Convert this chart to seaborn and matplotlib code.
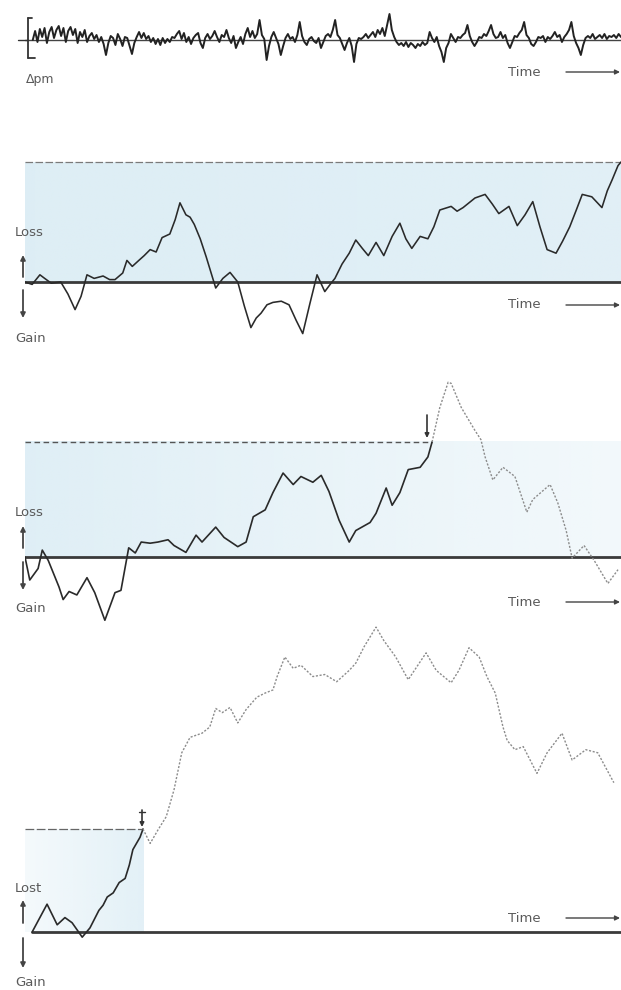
import matplotlib
matplotlib.use("Agg")
import matplotlib.pyplot as plt
from matplotlib.lines import Line2D
from matplotlib.patches import FancyArrowPatch
from matplotlib.colors import to_rgb
import numpy as np
import pandas as pd
import seaborn as sns

sns.set_style("white")
plt.rcParams["font.family"] = ["DejaVu Sans"]

# ---------------------------------------------------------------- data
# Top trace: fluctuation record (deviation from rest, arbitrary units)
noise = [
    0, 9, -2, 11, 3, 12, -3, 8, 13, 2,
    10, 14, 4, 12, -2, 9, 13, 5, 11, -3,
    8, 3, 10, -2, 4, 7, 1, 5, -2, 3,
    -4, -15, -3, 4, 2, -5, 6, 1, -6, 3,
    2, -6, -14, -3, 3, 8, 2, 7, 1, 4,
    -2, 2, -4, 1, -5, 2, -3, 1, -2, 3,
    2, 6, 9, 1, 7, -2, 3, -4, 2, 5,
    7, -3, -8, 2, 6, 1, 4, 9, 3, -2,
    5, 3, 10, 2, -3, 4, -8, -2, 3, -4,
    6, 12, 3, 9, 2, 6, 20, 5, 1, -20,
    -6, 3, 8, 2, -4, -15, -6, 2, 6, 1,
    3, -2, 5, 18, 4, -2, -5, 1, 3, -1,
    -3, 2, -8, -2, 4, 6, 3, 10, 20, 5,
    2, -4, -10, -3, 2, -6, -22, -4, 2, 1,
    3, 6, 2, 5, 8, 3, 10, 6, 12, 4,
    15, 26, 10, 3, -2, -5, -3, -6, -2, -7,
    -3, -5, -8, -4, -6, -2, -5, -3, 8, 2,
    -2, 3, -6, -12, -22, -8, -3, 6, 2, -2,
    3, 2, 5, 7, 15, 4, -2, -6, -2, 3,
    2, 6, 4, 9, 15, 6, 2, 3, 8, 2,
    5, -3, -8, -2, 4, 3, 7, 10, 18, 5,
    2, -4, -6, -2, 3, 2, 4, -2, 3, 1,
    4, 8, 3, 5, -2, 3, 6, 10, 18, 4,
    -3, -8, -15, -5, 2, 4, 2, 6, 1, 3,
    5, 2, 6, 1, 4, 3, 5, 2, 6, 3,
]

# Walk A: wanders, finally reaches the ruin level at the very end
walk_a_time = [0, 1.2, 2.5, 3.3, 4.4, 6.0, 7.2, 8.4, 9.4, 10.4, 11.6, 13.1, 14.2,
               15.1, 16.4, 17.1, 18.0, 19.1, 20.0, 21.0, 22.0, 23.0, 24.3, 25.2,
               26.0, 27.0, 27.7, 28.4, 29.4, 30.4, 31.2, 32.0, 33.2, 34.4, 35.7,
               36.8, 37.9, 38.8, 39.6, 40.6, 41.6, 43.0, 44.3, 45.5, 46.6, 47.8,
               49.0, 50.3, 51.2, 52.0, 53.2, 54.4, 55.5, 56.6, 57.6, 58.9, 60.2,
               61.6, 62.9, 63.9, 64.9, 66.3, 67.6, 68.6, 69.6, 71.5, 72.5, 73.5,
               75.5, 77.2, 78.4, 79.5, 81.2, 82.6, 83.9, 85.2, 86.4, 87.6, 89.1,
               90.2, 91.4, 92.5, 93.5, 95.1, 96.8, 97.7, 98.5, 99.5, 100]
walk_a_loss = [0, -0.2, 0.6, 0.3, -0.1, 0.0, -1.0, -2.3, -1.2, 0.6, 0.3, 0.5, 0.2,
               0.2, 0.75, 1.8, 1.3, 1.8, 2.2, 2.7, 2.5, 3.7, 4.0, 5.2,
               6.6, 5.6, 5.4, 4.8, 3.6, 2.1, 0.8, -0.5, 0.3, 0.8, 0.0,
               -2.0, -3.8, -3.0, -2.6, -1.9, -1.7, -1.6, -1.9, -3.2, -4.3, -1.8,
               0.6, -0.8, -0.2, 0.3, 1.5, 2.4, 3.5, 2.8, 2.2, 3.3, 2.2,
               3.8, 4.9, 3.6, 2.8, 3.8, 3.6, 4.6, 6.0, 6.3, 5.9, 6.2,
               7.0, 7.3, 6.5, 5.7, 6.3, 4.7, 5.6, 6.7, 4.6, 2.7, 2.4,
               3.4, 4.6, 6.0, 7.3, 7.1, 6.2, 7.6, 8.5, 9.7, 10.0]

# Walk B: hits the ruin level around t = 68, then carries on (dotted)
walk_b_time = [0, 0.8, 2.2, 2.9, 3.9, 5.7, 6.4, 7.4, 8.7, 10.4, 11.7, 13.4, 15.1,
               16.1, 17.4, 18.5, 19.5, 21.0, 22.3, 24.0, 25.0, 27.0, 28.7, 29.7,
               32.0, 33.4, 35.7, 37.1, 38.3, 40.3, 41.6, 43.3, 45.0, 46.3, 48.3,
               49.7, 51.0, 52.7, 54.4, 55.5, 57.9, 58.9, 60.6, 61.6, 62.9, 64.3,
               66.3, 67.6, 68.3]
walk_b_loss = [0, -2.0, -1.0, 0.6, -0.3, -2.6, -3.7, -3.0, -3.3, -1.8, -3.1, -5.5, -3.1,
               -2.9, 0.8, 0.35, 1.3, 1.2, 1.3, 1.5, 1.0, 0.4, 1.9, 1.3,
               2.6, 1.7, 0.9, 1.3, 3.5, 4.1, 5.6, 7.3, 6.3, 7.0, 6.5,
               7.1, 5.7, 3.2, 1.3, 2.3, 3.0, 3.8, 6.0, 4.5, 5.6, 7.6,
               7.8, 8.7, 10.0]
after_b_time = [68.3, 69.6, 71.0, 71.5, 73.2, 75.5, 76.5, 77.2, 78.5, 80.2, 82.2,
                84.2, 85.2, 88.1, 89.4, 90.8, 91.8, 93.8, 95.5, 97.8, 99.5]
after_b_loss = [10.0, 13.0, 15.2, 15.1, 13.0, 11.0, 10.2, 8.7, 6.7, 7.8, 7.0,
                3.9, 5.0, 6.3, 4.7, 2.3, -0.1, 1.0, -0.3, -2.3, -1.1]

# Walk C: climbs quickly to the ruin level, then drifts far above (dotted)
walk_c_time = [1.2, 3.7, 5.4, 6.7, 7.9, 9.6, 10.9, 12.4, 13.1, 13.8, 14.8, 15.8,
               16.8, 17.5, 18.1, 19.3, 19.8]
walk_c_loss = [0, 2.7, 0.7, 1.4, 0.9, -0.5, 0.4, 2.1, 2.6, 3.4, 3.8, 4.8,
               5.2, 6.5, 8.0, 9.2, 10.0]
after_c_time = [19.8, 21.0, 22.3, 23.7, 25.0, 26.3, 27.7, 29.7, 31.0, 32.0, 33.1,
                34.4, 35.7, 37.1, 38.9, 40.3, 41.6, 42.3, 43.6, 45.0, 46.3, 48.3,
                50.3, 52.3, 54.4, 55.5, 56.9, 58.9, 60.2, 62.2, 64.3, 67.3, 69.0,
                71.5, 72.8, 74.5, 76.2, 77.5, 78.9, 80.2, 80.9, 82.2, 83.6, 85.9,
                87.6, 90.1, 91.8, 94.1, 96.1, 98.8]
after_c_loss = [10.0, 8.6, 9.9, 11.2, 13.8, 17.4, 18.9, 19.3, 19.9, 21.7, 21.3,
                21.8, 20.3, 21.6, 22.8, 23.2, 23.5, 24.8, 26.7, 25.6, 25.9, 24.8,
                25.0, 24.3, 25.4, 26.1, 27.7, 29.6, 28.3, 26.7, 24.5, 27.1, 25.4,
                24.2, 25.4, 27.6, 26.7, 24.8, 23.2, 19.9, 18.6, 17.7, 18.0, 15.4,
                17.4, 19.3, 16.7, 17.7, 17.4, 14.5]

ruin_level = 10.0

# ---------------------------------------------------------------- layout
W, H = 621, 990
fig = plt.figure(figsize=(W / 100, H / 100), dpi=100)
fig.patch.set_facecolor("white")

INK = "#2a2a2a"
TEXT = "#5a5a5a"
SHADE = "#dcedf5"
AFTER = "#8c8c8c"


def fx(x):
    return x / W


def fy(y):
    return 1 - y / H


def panel(top, bottom, ylim):
    ax = fig.add_axes([fx(25), fy(bottom), fx(621) - fx(25), (bottom - top) / H])
    ax.set_xlim(0, 100)
    ax.set_ylim(*ylim)
    ax.axis("off")
    ax.patch.set_alpha(0)
    return ax


def shade(ax, t0, t1, alpha_left, alpha_right):
    """Soft blue band between the zero line and the ruin level."""
    ramp = np.linspace(alpha_left, alpha_right, 64)
    rgba = np.zeros((1, 64, 4))
    rgba[..., :3] = to_rgb(SHADE)
    rgba[..., 3] = ramp
    ax.imshow(rgba, extent=(t0, t1, 0, ruin_level), aspect="auto",
              interpolation="bilinear", zorder=0)


def fig_line(x0, y0, x1, y1, **kw):
    fig.add_artist(Line2D([fx(x0), fx(x1)], [fy(y0), fy(y1)],
                          transform=fig.transFigure, **kw))


def fig_arrow(x0, y0, x1, y1, scale=7, lw=1.0, color="#444444"):
    fig.add_artist(FancyArrowPatch((fx(x0), fy(y0)), (fx(x1), fy(y1)),
                                   transform=fig.transFigure, arrowstyle="-|>",
                                   mutation_scale=scale, lw=lw, color=color,
                                   shrinkA=0, shrinkB=0))


def time_label(y):
    fig.text(fx(508), fy(y), "Time", ha="left", va="center",
             fontsize=9.5, color=TEXT)
    fig_arrow(566, y, 620, y)


def loss_gain(y_loss, y_up0, y_up1, y_dn0, y_dn1, y_gain, loss_word="Loss"):
    fig.text(fx(15), fy(y_loss), loss_word, ha="left", va="center",
             fontsize=9.5, color=TEXT)
    fig.text(fx(15), fy(y_gain), "Gain", ha="left", va="center",
             fontsize=9.5, color=TEXT)
    fig_arrow(23, y_up0, 23, y_up1, scale=7, lw=1.3)
    fig_arrow(23, y_dn0, 23, y_dn1, scale=7, lw=1.3)


# ---------------------------------------------------------------- panel 1
ax1 = panel(0, 100, (-60, 40))
noise_t = np.linspace(1.3, 100, len(noise))
ax1.axhline(0, color="#444444", lw=1.0)
sns.lineplot(x=noise_t, y=noise, ax=ax1, color="#222222", lw=1.4,
             estimator=None, sort=False)
# scale bracket
fig_line(28, 18, 28, 58, color="#333333", lw=1.3)
fig_line(28, 18, 32, 18, color="#333333", lw=1.3)
fig_line(28, 58, 35, 58, color="#333333", lw=1.3)
fig_line(18, 40, 28, 40, color="#333333", lw=1.0)
fig.text(fx(26), fy(80), "Δpm", ha="left", va="center", fontsize=9, color=TEXT)
time_label(72)

# ---------------------------------------------------------------- panel 2
ax2 = panel(140, 345, (-(345 - 282) / 12, (282 - 140) / 12))
shade(ax2, 0, 100, 0.95, 0.85)
ax2.axhline(ruin_level, color="#7a7a7a", lw=0.9, ls=(0, (6, 2)))
ax2.axhline(0, xmin=-0.005, color="#3a3a3a", lw=2.0)
sns.lineplot(x=walk_a_time, y=walk_a_loss, ax=ax2, color=INK, lw=1.15,
             estimator=None, sort=False)
loss_gain(233, 277, 255, 290, 318, 338)
time_label(305)

# ---------------------------------------------------------------- panel 3
ax3 = panel(365, 625, (-(625 - 557) / 11.5, (557 - 365) / 11.5))
shade(ax3, 0, 100, 0.9, 0.35)
ax3.plot([0, walk_b_time[-1]], [ruin_level, ruin_level], color="#555555",
         lw=1.0, ls=(0, (4, 2.5)))
ax3.axhline(0, color="#3a3a3a", lw=2.0)
sns.lineplot(x=walk_b_time, y=walk_b_loss, ax=ax3, color=INK, lw=1.2,
             estimator=None, sort=False)
sns.lineplot(x=after_b_time, y=after_b_loss, ax=ax3, color=AFTER, lw=1.0,
             ls=(0, (1.5, 1.2)), estimator=None, sort=False)
fig_arrow(427, 415, 427, 438, scale=6, lw=1.2, color="#333333")
loss_gain(512, 548, 526, 562, 590, 608)
time_label(602)

# ---------------------------------------------------------------- panel 4
ax4 = panel(622, 990, (-(990 - 932) / 10.3, (932 - 622) / 10.3))
shade(ax4, 0, walk_c_time[-1], 0.3, 0.8)
ax4.plot([0, walk_c_time[-1]], [ruin_level, ruin_level], color="#666666",
         lw=0.9, ls=(0, (7, 2)))
ax4.axhline(0, xmin=0.012, color="#3a3a3a", lw=2.0)
sns.lineplot(x=walk_c_time, y=walk_c_loss, ax=ax4, color=INK, lw=1.2,
             estimator=None, sort=False)
sns.lineplot(x=after_c_time, y=after_c_loss, ax=ax4, color=AFTER, lw=1.0,
             ls=(0, (1.5, 1.2)), estimator=None, sort=False)
fig_arrow(142, 810, 142, 827, scale=6, lw=1.2, color="#333333")
fig_line(139, 812, 145, 812, color="#333333", lw=1.0)
loss_gain(888, 923, 900, 938, 968, 982, loss_word="Lost")
time_label(918)

for ax in (ax1, ax2, ax3, ax4):
    legend = ax.get_legend()
    if legend is not None:
        legend.remove()

fig.savefig("out.png", dpi=100, facecolor="white")
